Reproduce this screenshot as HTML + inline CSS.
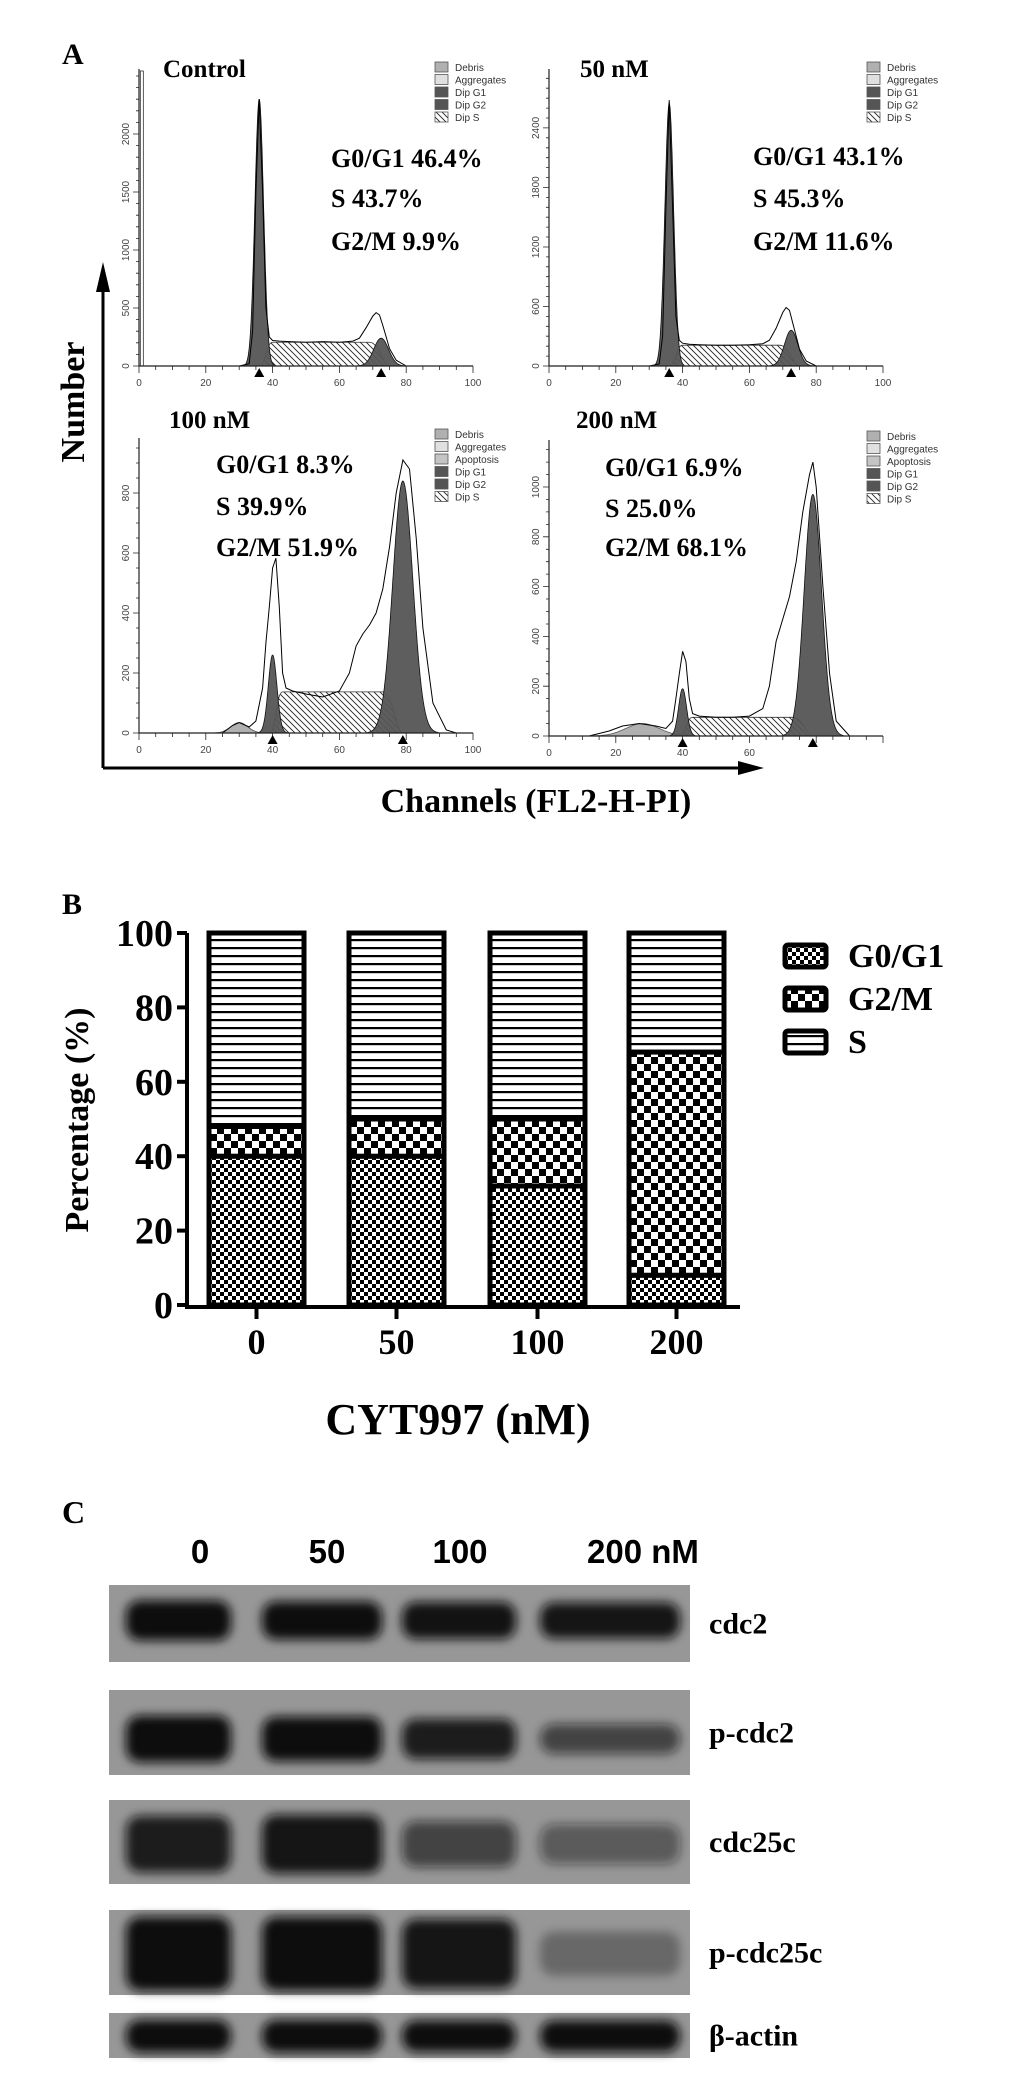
<!DOCTYPE html>
<html><head><meta charset="utf-8">
<style>
html,body{margin:0;padding:0;background:#fff;}
svg{display:block;}
.ser{font-family:"Liberation Serif",serif;font-weight:bold;}
.sans{font-family:"Liberation Sans",sans-serif;}
</style></head>
<body>
<svg id="fig" width="1033" height="2086" viewBox="0 0 1033 2086" xmlns="http://www.w3.org/2000/svg">
<defs>
<pattern id="hatch" width="6" height="6" patternUnits="userSpaceOnUse"><rect width="6" height="6" fill="#fff"/><path d="M-1,-1 L7,7 M-1,5 L1,7 M5,-1 L7,1" stroke="#222" stroke-width="0.9"/></pattern>
<pattern id="fineCheck" width="8" height="8" patternUnits="userSpaceOnUse"><rect width="8" height="8" fill="#fff"/><rect width="4" height="4" fill="#000"/><rect x="4" y="4" width="4" height="4" fill="#000"/></pattern>
<pattern id="bigCheck" width="14" height="14" patternUnits="userSpaceOnUse"><rect width="14" height="14" fill="#fff"/><rect width="7" height="7" fill="#000"/><rect x="7" y="7" width="7" height="7" fill="#000"/></pattern>
<pattern id="hlines" width="10" height="8" patternUnits="userSpaceOnUse"><rect width="10" height="8" fill="#fff"/><rect y="3" width="10" height="2.2" fill="#000"/></pattern>
<filter id="blur" x="-30%" y="-60%" width="160%" height="220%"><feGaussianBlur stdDeviation="5"/></filter>
</defs>
<g id="panelA"></g>
<g id="panelB"></g>
<g id="panelC"></g>
</svg>
<script>
// ---------- Panel A data (flow cytometry histograms) ----------
const ctrlChannels = [30,33,34,35,36,37,38,39,40,42,45,50,55,60,64,66,68,70,71,72,73,74,75,77,80];
const ctrlCounts   = [0,20,300,1500,2300,1500,500,250,220,215,210,205,210,205,215,240,330,430,460,440,350,250,150,50,0];
const ctrlG1 = [36,2300,1.3];
const ctrlG2 = [72.5,240,2.2];
const ctrlS  = [39,70,205];
const ctrlDebris = [0,0,1];

const nm50Channels = [30,33,34,35,36,37,38,39,40,42,45,50,55,60,64,66,68,70,71,72,73,74,75,77,80];
const nm50Counts   = [0,20,300,1600,2680,1600,500,260,230,220,215,210,210,215,225,260,380,540,590,560,430,300,170,50,0];
const nm50G1 = [36,2650,1.3];
const nm50G2 = [72.5,360,2];
const nm50S  = [39,70,210];
const nm50Debris = [0,0,1];

const nm100Channels = [25,28,30,33,35,37,38,39,40,41,42,43,44,46,50,55,60,63,65,67,69,71,73,75,77,79,81,83,85,88,92,95];
const nm100Counts   = [0,25,35,20,40,150,300,420,550,583,420,200,150,140,130,120,140,200,290,330,360,400,480,620,800,910,880,650,350,100,10,0];
const nm100G1 = [40,260,1.3];
const nm100G2 = [79,840,3];
const nm100S  = [42,74,137];
const nm100Debris = [30,35,2.5];

const nm200Channels = [12,18,22,27,32,35,37,38,39,40,41,42,43,45,50,55,60,64,66,68,70,72,74,76,78,79,80,82,84,86,90];
const nm200Counts   = [0,20,40,50,40,30,60,150,250,340,300,150,90,80,75,75,80,110,200,380,470,560,700,900,1050,1100,1000,600,250,60,0];
const nm200G1 = [40,190,1.2];
const nm200G2 = [79,970,2.6];
const nm200S  = [42,74,75];
const nm200Debris = [28,50,5];

const xTickLabels = [0,20,40,60,80,100];
const ctrlYTicks = [0,500,1000,1500,2000];
const nm50YTicks = [0,600,1200,1800,2400];
const nm100YTicks = [0,200,400,600,800];
const nm200YTicks = [0,200,400,600,800,1000];

// ---------- Panel B data ----------
const doses = ["0","50","100","200"];
const g1Pct = [40,40,32,8];
const g2Pct = [8,10,18,60];
const sPct  = [52,50,50,32];
const bTicks = [0,20,40,60,80,100];

// ---------- Panel C data ----------
const proteins = ["cdc2","p-cdc2","cdc25c","p-cdc25c","β-actin"];
const laneLabels = ["0","50","100","200 nM"];
const cdc2Int   = [1.0,0.95,0.92,0.9];
const pcdc2Int  = [1.0,0.95,0.85,0.6];
const cdc25cInt = [0.85,0.9,0.6,0.45];
const pcdc25cInt= [1.0,1.0,0.9,0.3];
const actinInt  = [1.0,1.0,0.95,0.95];

const NS="http://www.w3.org/2000/svg";
function mk(tag, attrs, parent, txt){
  const e=document.createElementNS(NS,tag);
  for(const k in attrs) e.setAttribute(k,attrs[k]);
  if(txt!==undefined) e.textContent=txt;
  parent.appendChild(e); return e;
}
const A=document.getElementById('panelA');
const B=document.getElementById('panelB');
const C=document.getElementById('panelC');

let t;
t=mk('text',{x:62,y:64,'font-size':30,class:'ser'},A,'A');



let ax=mk('path',{d:'M103,768 L103,290 M103,768 L740,768',stroke:'#000','stroke-width':3,fill:'none'},A);


let ah=mk('path',{d:'M96,292 L103,262 L110,292 Z M738,761 L764,768 L738,775 Z',fill:'#000'},A);


t=mk('text',{x:0,y:0,'font-size':34,class:'ser','text-anchor':'middle',transform:'translate(84,402) rotate(-90)'},A,'Number');


t=mk('text',{x:536,y:812,'font-size':34,class:'ser','text-anchor':'middle'},A,'Channels (FL2-H-PI)');



const plots=[
 {name:'control',title:'Control',tx:163,ty:77,x0:139,x1:473,yb:366,ppu:0.116,ytop:69,minor:100,ticks:ctrlYTicks,ch:ctrlChannels,ct:ctrlCounts,g1:ctrlG1,g2:ctrlG2,s:ctrlS,deb:ctrlDebris,
  stats:['G0/G1 46.4%','S 43.7%','G2/M 9.9%'],sx:331,sy:[167,207,250],lx:435,ly:62,leg:['Debris','Aggregates','Dip G1','Dip G2','Dip S'],maxLab:100},
 {name:'50nm',title:'50 nM',tx:580,ty:77,x0:549,x1:883,yb:366,ppu:0.0992,ytop:69,minor:100,ticks:nm50YTicks,ch:nm50Channels,ct:nm50Counts,g1:nm50G1,g2:nm50G2,s:nm50S,deb:nm50Debris,
  stats:['G0/G1 43.1%','S 45.3%','G2/M 11.6%'],sx:753,sy:[165,207,250],lx:867,ly:62,leg:['Debris','Aggregates','Dip G1','Dip G2','Dip S'],maxLab:100},
 {name:'100nm',title:'100 nM',tx:169,ty:428,x0:139,x1:473,yb:733,ppu:0.3,ytop:438,minor:50,ticks:nm100YTicks,ch:nm100Channels,ct:nm100Counts,g1:nm100G1,g2:nm100G2,s:nm100S,deb:nm100Debris,
  stats:['G0/G1 8.3%','S 39.9%','G2/M 51.9%'],sx:216,sy:[473,515,556],lx:435,ly:429,leg:['Debris','Aggregates','Apoptosis','Dip G1','Dip G2','Dip S'],maxLab:100},
 {name:'200nm',title:'200 nM',tx:576,ty:428,x0:549,x1:883,yb:736,ppu:0.249,ytop:440,minor:50,ticks:nm200YTicks,ch:nm200Channels,ct:nm200Counts,g1:nm200G1,g2:nm200G2,s:nm200S,deb:nm200Debris,
  stats:['G0/G1 6.9%','S 25.0%','G2/M 68.1%'],sx:605,sy:[476,517,556],lx:867,ly:431,leg:['Debris','Aggregates','Apoptosis','Dip G1','Dip G2','Dip S'],maxLab:60}
];

function gauss(c,p){return p[1]*Math.exp(-0.5*Math.pow((c-p[0])/p[2],2));}

plots.forEach(p=>{
  const g=mk('g',{},A);
  
  
  const X=c=>p.x0+(p.x1-p.x0)*c/100;
  const Y=v=>p.yb-v*p.ppu;
  if(p.deb[1]>0){
    let d='M'+X(p.deb[0]-3*p.deb[2])+','+p.yb;
    for(let c=p.deb[0]-3*p.deb[2];c<=p.deb[0]+3*p.deb[2];c+=0.25) d+=' L'+X(c).toFixed(1)+','+Y(gauss(c,p.deb)).toFixed(1);
    d+=' L'+X(p.deb[0]+3*p.deb[2])+','+p.yb+' Z';
    const e=mk('path',{d:d,fill:'#b0b0b0',stroke:'#555','stroke-width':0.8},g);
    
    
  }
  const s=p.s; const ramp=3;
  let sd='M'+X(s[0]-ramp)+','+p.yb+' C'+X(s[0]-1)+','+p.yb+' '+X(s[0]-1)+','+Y(s[2])+' '+X(s[0]+1)+','+Y(s[2])+
    ' L'+X(s[1]-1)+','+Y(s[2])+' C'+X(s[1]+2)+','+Y(s[2])+' '+X(s[1]+3)+','+p.yb+' '+X(s[1]+ramp+2)+','+p.yb+' Z';
  let se=mk('path',{d:sd,fill:'url(#hatch)',stroke:'#333','stroke-width':0.8},g);
  
  
  [[p.g1,'dip-g1-peak'],[p.g2,'dip-g2-peak']].forEach(([pk,nm])=>{
    let d='M'+X(pk[0]-3.5*pk[2])+','+p.yb;
    for(let c=pk[0]-3.5*pk[2];c<=pk[0]+3.5*pk[2];c+=0.1) d+=' L'+X(c).toFixed(1)+','+Y(gauss(c,pk)).toFixed(1);
    d+=' L'+X(pk[0]+3.5*pk[2])+','+p.yb+' Z';
    const e=mk('path',{d:d,fill:'#555',stroke:'#111','stroke-width':0.8,'fill-opacity':0.95},g);
    
    
  });
  let od='';
  p.ch.forEach((c,i)=>{od+=(i?' L':'M')+X(c).toFixed(1)+','+Y(p.ct[i]).toFixed(1);});
  let oe=mk('path',{d:od,fill:'none',stroke:'#000','stroke-width':1},g);
  
  
  if(p.name==='control'){
    let dl=mk('rect',{x:X(0.4),y:p.ytop+2,width:3,height:p.yb-p.ytop-2,fill:'#fff',stroke:'#333','stroke-width':0.8},g);
    
    
  }
  let axe=mk('path',{d:'M'+p.x0+','+p.ytop+' L'+p.x0+','+p.yb+' L'+p.x1+','+p.yb,stroke:'#222','stroke-width':1.2,fill:'none'},g);
  
  
  let tk='';
  const maxV=(p.yb-p.ytop)/p.ppu;
  for(let v=0;v<=maxV;v+=p.minor){const isMaj=p.ticks.indexOf(v)>=0; tk+='M'+(p.x0-(isMaj?6:3))+','+Y(v).toFixed(1)+' L'+p.x0+','+Y(v).toFixed(1)+' ';}
  for(let c=0;c<=100;c+=5){tk+='M'+X(c).toFixed(1)+','+p.yb+' L'+X(c).toFixed(1)+','+(p.yb+(c%20===0?7:4))+' ';}
  let te=mk('path',{d:tk,stroke:'#222','stroke-width':0.8},g);
  
  
  p.ticks.forEach(v=>{
    const e=mk('text',{x:0,y:0,'font-size':10,class:'sans',fill:'#444','text-anchor':'middle',transform:'translate('+(p.x0-10)+','+Y(v).toFixed(1)+') rotate(-90)'},g,String(v));
    
    
  });
  xTickLabels.filter(v=>v<=p.maxLab).forEach(v=>{
    const e=mk('text',{x:X(v),y:p.yb+20,'font-size':10,class:'sans',fill:'#444','text-anchor':'middle'},g,String(v));
    
    
  });
  [p.g1[0],p.g2[0]].forEach(c=>{
    const e=mk('path',{d:'M'+(X(c)-5)+','+(p.yb+11)+' L'+X(c)+','+(p.yb+2)+' L'+(X(c)+5)+','+(p.yb+11)+' Z',fill:'#000'},g);
    
    
  });
  let tt=mk('text',{x:p.tx,y:p.ty,'font-size':25,class:'ser'},g,p.title);
  
  
  p.stats.forEach((s,i)=>{
    const e=mk('text',{x:p.sx,y:p.sy[i],'font-size':26,class:'ser'},g,s);
    
    
  });
  const fills={'Debris':'#b0b0b0','Aggregates':'#e0e0e0','Apoptosis':'#c4c4c4','Dip G1':'#555','Dip G2':'#555','Dip S':'url(#hatch)'};
  p.leg.forEach((l,i)=>{
    const r=mk('rect',{x:p.lx,y:p.ly+i*12.5,width:13,height:10,fill:fills[l],stroke:'#555','stroke-width':0.8},g);
    
    
    const e=mk('text',{x:p.lx+20,y:p.ly+i*12.5+9,'font-size':10,class:'sans',fill:'#333'},g,l);
    
    
  });
});

// ---------- Panel B ----------
t=mk('text',{x:62,y:914,'font-size':30,class:'ser'},B,'B');


const bx0=187, by0=1305, by100=933;
const BY=v=>by0-(by0-by100)*v/100;
const barX=[209,349,490,629], barW=95;
let bax=mk('path',{d:'M'+bx0+','+by100+' L'+bx0+','+(by0+2)+' L740,'+(by0+2),stroke:'#000','stroke-width':4,fill:'none'},B);


bTicks.forEach(v=>{
  const l=mk('line',{x1:bx0-10,x2:bx0,y1:BY(v),y2:BY(v),stroke:'#000','stroke-width':4},B);
  
  
  const e=mk('text',{x:bx0-14,y:BY(v)+13,'font-size':38,class:'ser','text-anchor':'end'},B,String(v));
  
  
});
t=mk('text',{x:0,y:0,'font-size':34,class:'ser','text-anchor':'middle',transform:'translate(88,1120) rotate(-90)'},B,'Percentage (%)');


doses.forEach((d,i)=>{
  const x=barX[i];
  const segs=[[0,g1Pct[i],'url(#fineCheck)','bar-g0g1-'+d],[g1Pct[i],g1Pct[i]+g2Pct[i],'url(#bigCheck)','bar-g2m-'+d],[g1Pct[i]+g2Pct[i],g1Pct[i]+g2Pct[i]+sPct[i],'url(#hlines)','bar-s-'+d]];
  segs.forEach(sg=>{
    const r=mk('rect',{x:x,y:BY(sg[1]),width:barW,height:BY(sg[0])-BY(sg[1]),fill:sg[2],stroke:'#000','stroke-width':5},B);
    
    
  });
  const tk=mk('line',{x1:x+barW/2,x2:x+barW/2,y1:by0+2,y2:by0+14,stroke:'#000','stroke-width':4},B);
  
  
  const e=mk('text',{x:x+barW/2,y:1354,'font-size':36,class:'ser','text-anchor':'middle'},B,d);
  
  
});
t=mk('text',{x:458,y:1434,'font-size':44,class:'ser','text-anchor':'middle'},B,'CYT997 (nM)');


[['G0/G1','url(#fineCheck)'],['G2/M','url(#bigCheck)'],['S','url(#hlines)']].forEach((l,i)=>{
  const y=945+i*43;
  const r=mk('rect',{x:785,y:y,width:41,height:22,rx:3,fill:l[1],stroke:'#000','stroke-width':5},B);
  
  
  const e=mk('text',{x:848,y:y+22,'font-size':34,class:'ser'},B,l[0]);
  
  
});

// ---------- Panel C ----------
t=mk('text',{x:62,y:1523,'font-size':32,class:'ser'},C,'C');


const labelX=[200,327,460,587];
laneLabels.forEach((l,i)=>{
  const e=mk('text',{x:labelX[i],y:1563,'font-size':33,class:'sans','font-weight':'bold','text-anchor':(i===3?'start':'middle')},C,l);
  
  
});
const rowsY=[[1585,1662],[1690,1775],[1800,1884],[1910,1995],[2013,2058]];
const intens=[cdc2Int,pcdc2Int,cdc25cInt,pcdc25cInt,actinInt];
const laneL=[122,258,398,536], laneR=[235,386,520,684];
const bandFrac=[[0.2,0.72],[0.3,0.85],[0.15,0.9],[0.08,0.95],[0.15,0.88]];
proteins.forEach((pr,r)=>{
  const [y0,y1]=rowsY[r];
  const g=mk('g',{},C);
  
  
  const bg=mk('rect',{x:109,y:y0,width:581,height:y1-y0,fill:'#979797'},g);
  
  
  const H=y1-y0;
  intens[r].forEach((v,i)=>{
    const top=y0+H*bandFrac[r][0], bot=y0+H*bandFrac[r][1];
    const shrink=(1-v)*H*0.25;
    const e=mk('rect',{x:laneL[i]+4,y:top+shrink,width:laneR[i]-laneL[i]-8,height:Math.max(6,bot-top-2*shrink),rx:14,fill:'#111','fill-opacity':Math.min(1,v*1.05),filter:'url(#blur)'},g);
    
    
  });
  const e=mk('text',{x:709,y:(y0+y1)/2+10,'font-size':30,class:'ser'},C,pr);
  
  
});
</script>
</body></html>
